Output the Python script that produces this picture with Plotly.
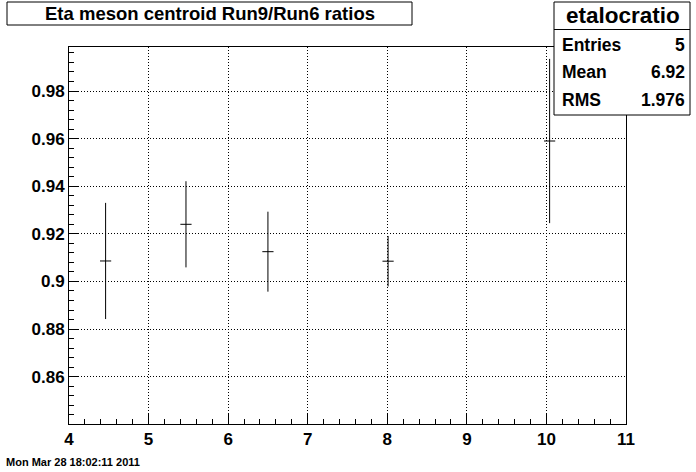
import plotly.graph_objects as go

# Data
x_vals = [4.46, 5.47, 6.50, 8.01, 10.04]
y_vals = [0.9086, 0.9240, 0.9125, 0.9085, 0.9590]
y_errs = [0.0244, 0.0181, 0.0168, 0.0106, 0.0345]

x_ticks = [4, 5, 6, 7, 8, 9, 10, 11]
y_ticks = [0.86, 0.88, 0.90, 0.92, 0.94, 0.96, 0.98]
y_tick_labels = ["0.86", "0.88", "0.9", "0.92", "0.94", "0.96", "0.98"]

title_text = "Eta meson centroid Run9/Run6 ratios"
stats_name = "etalocratio"
stats_rows = [("Entries", "5"), ("Mean", "6.92"), ("RMS", "1.976")]
date_text = "Mon Mar 28 18:02:11 2011"

W, H = 696, 472
L, R, T, B = 69, 70, 47, 48
pw, ph = W - L - R, H - T - B


def px(xp):
    return (xp - L) / pw


def py(yp):
    return (H - B - yp) / ph


FONT = "Liberation Sans, Arial, sans-serif"

fig = go.Figure()
fig.add_trace(go.Scatter(
    x=x_vals, y=y_vals,
    mode="markers",
    marker=dict(symbol="line-ew", size=8, color="black",
                line=dict(color="black", width=1)),
    error_y=dict(type="data", array=y_errs, visible=True,
                 color="black", thickness=1, width=0),
    showlegend=False,
    hoverinfo="x+y",
))

axis_common = dict(
    showline=True, linecolor="black", linewidth=1, mirror=True,
    ticks="inside", tickcolor="black", tickwidth=1,
    showgrid=True, gridcolor="black", griddash="1px,2px", gridwidth=1,
    zeroline=False,
    tickfont=dict(family=FONT, size=17, color="black", weight="bold"),
)

fig.update_xaxes(
    range=[4, 11], tickmode="array", tickvals=x_ticks,
    ticktext=[str(v) for v in x_ticks], ticklen=11,
    minor=dict(dtick=0.2, ticks="inside", ticklen=5, tickcolor="black", showgrid=False),
    **axis_common,
)
fig.update_yaxes(
    range=[0.8401, 0.9985], tickmode="array", tickvals=y_ticks,
    ticktext=y_tick_labels, ticklen=9,
    minor=dict(dtick=0.004, tick0=0.86, ticks="inside", ticklen=5, tickcolor="black", showgrid=False),
    **axis_common,
)

shapes = []
annotations = []

# Title box
shapes.append(dict(type="rect", xref="paper", yref="paper",
                   x0=px(7), x1=px(412), y0=py(25), y1=py(2),
                   line=dict(color="black", width=1), fillcolor="white", layer="above"))
annotations.append(dict(text=title_text, xref="paper", yref="paper",
                        x=px(209.5), y=py(13.5), xanchor="center", yanchor="middle",
                        showarrow=False,
                        font=dict(family=FONT, size=18.5, color="black", weight="bold")))

# Stats box
shapes.append(dict(type="rect", xref="paper", yref="paper",
                   x0=px(554), x1=px(690), y0=py(115), y1=py(2),
                   line=dict(color="black", width=1), fillcolor="white", layer="above"))
shapes.append(dict(type="line", xref="paper", yref="paper",
                   x0=px(554), x1=px(690), y0=py(29.5), y1=py(29.5),
                   line=dict(color="black", width=1), layer="above"))
annotations.append(dict(text=stats_name, xref="paper", yref="paper",
                        x=px(623), y=py(16), xanchor="center", yanchor="middle",
                        showarrow=False,
                        font=dict(family=FONT, size=22.5, color="black", weight="bold")))
row_y = [45, 72.5, 100]
for (lab, val), yy in zip(stats_rows, row_y):
    annotations.append(dict(text=lab, xref="paper", yref="paper",
                            x=px(560), y=py(yy), xanchor="left", yanchor="middle",
                            showarrow=False,
                            font=dict(family=FONT, size=17.5, color="black", weight="bold")))
    annotations.append(dict(text=val, xref="paper", yref="paper",
                            x=px(687), y=py(yy), xanchor="right", yanchor="middle",
                            showarrow=False,
                            font=dict(family=FONT, size=17.5, color="black", weight="bold")))

# Date stamp
annotations.append(dict(text=date_text, xref="paper", yref="paper",
                        x=px(4), y=py(462), xanchor="left", yanchor="middle",
                        showarrow=False,
                        font=dict(family=FONT, size=11, color="black", weight="bold")))

fig.update_layout(
    width=W, height=H,
    margin=dict(l=L, r=R, t=T, b=B, pad=0),
    paper_bgcolor="white", plot_bgcolor="white",
    shapes=shapes, annotations=annotations,
    showlegend=False,
)

fig.write_html(
    "out.html",
    config={"displayModeBar": False},
    post_script="document.body.style.margin='0';document.body.style.overflow='hidden';",
)
